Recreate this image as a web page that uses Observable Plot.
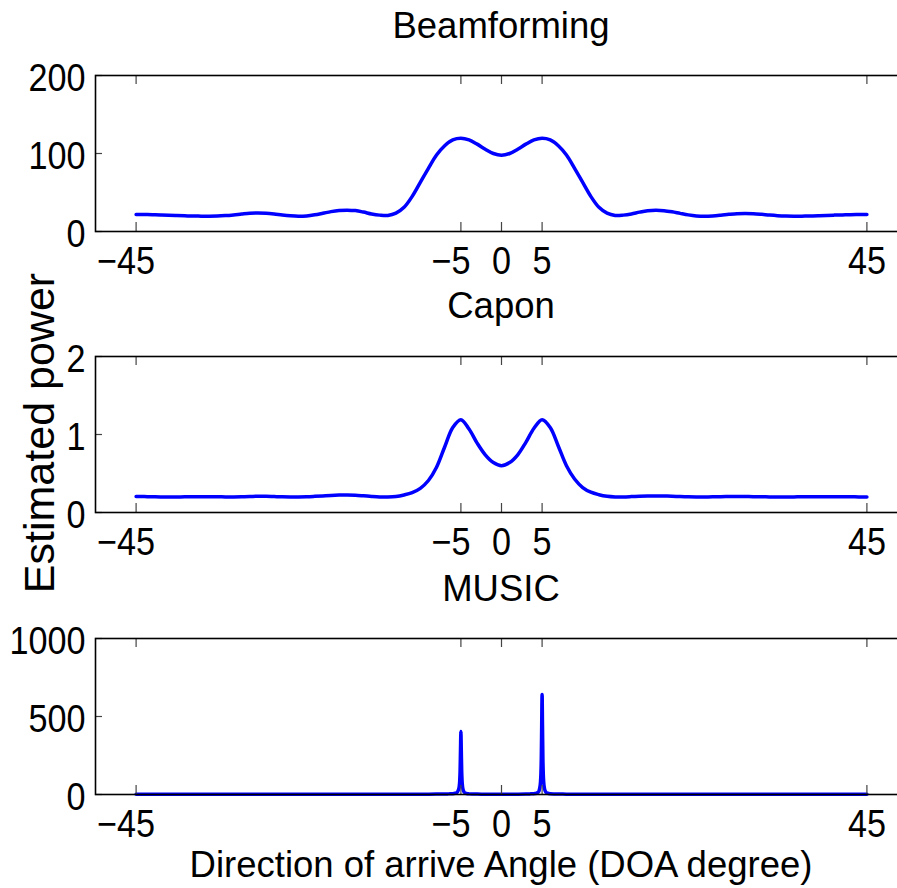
<!DOCTYPE html>
<html>
<head>
<meta charset="utf-8">
<script src="https://cdn.jsdelivr.net/npm/d3@7"></script>
<script src="https://cdn.jsdelivr.net/npm/@observablehq/plot@0.6"></script>
<style>
  html, body { margin: 0; padding: 0; background: #fff; width: 897px; height: 888px; overflow: hidden; }
  #root { position: relative; width: 897px; height: 888px; overflow: hidden;
          font-family: "Liberation Sans", Arial, Helvetica, sans-serif; color: #000; }
  .panel { position: absolute; left: 0; width: 907px; }
  .panel svg { max-width: none !important; }
  .ttl { position: absolute; left: 0; width: 1002px; text-align: center; font-size: 36.5px; line-height: 36px; white-space: nowrap; }
  .ylab { position: absolute; left: 39px; top: 433px; font-size: 43px; line-height: 42px; white-space: nowrap;
          transform: translate(-50%, -50%) rotate(-90deg); }
</style>
</head>
<body>
<div id="root"></div>
<script>
// ---- data ----
const angles = [-45,-44,-43,-42,-41,-40,-39,-38,-37,-36,-35,-34,-33,-32,-31,-30,-29,-28,-27,-26,-25,-24,-23,-22,-21,-20,-19,-18,-17,-16,-15,-14,-13,-12,-11,-10,-9,-8,-7,-6,-5,-4,-3,-2,-1,0,1,2,3,4,5,6,7,8,9,10,11,12,13,14,15,16,17,18,19,20,21,22,23,24,25,26,27,28,29,30,31,32,33,34,35,36,37,38,39,40,41,42,43,44,45];

const beamPower = [21.8,21.7,21.5,21.2,20.8,20.4,20.1,19.8,19.7,19.6,19.8,20.4,21.3,22.4,23.4,23.8,23.4,22.4,21.1,20.1,19.6,20.0,21.4,23.4,25.5,26.9,27.4,26.8,24.9,22.5,21.0,20.6,23.5,31,45,63,81,98,110,117.5,119.6,117.5,112,105.5,100,97.8,100,105.5,112,117.5,119.6,117.5,110,98,81,63,45,31,23.5,20.6,21.0,22.5,24.8,26.6,27.2,26.7,25.2,23.2,21.3,20.0,19.6,20.0,20.9,22.0,22.9,23.2,22.9,22.1,21.1,20.3,19.8,19.6,19.7,19.9,20.2,20.6,21.0,21.3,21.6,21.7,21.8];

const caponPower = [0.205,0.204,0.202,0.2,0.2,0.2,0.201,0.203,0.203,0.202,0.201,0.2,0.2,0.202,0.205,0.208,0.207,0.204,0.201,0.2,0.2,0.202,0.207,0.213,0.219,0.223,0.224,0.221,0.214,0.206,0.2,0.199,0.205,0.225,0.255,0.31,0.41,0.58,0.84,1.09,1.19,1.07,0.89,0.74,0.64,0.6,0.64,0.74,0.9,1.08,1.19,1.09,0.85,0.6,0.43,0.32,0.26,0.228,0.208,0.2,0.2,0.204,0.209,0.212,0.213,0.211,0.208,0.204,0.201,0.2,0.2,0.201,0.203,0.205,0.206,0.205,0.203,0.201,0.2,0.2,0.2,0.2,0.201,0.202,0.202,0.202,0.202,0.201,0.201,0.2,0.2];

const musicAngles = [-45,-35,-25,-15,-10,-8,-7,-6.5,-6,-5.7,-5.5,-5.4,-5.3,-5.2,-5.15,-5.1,-5.05,-5,-4.95,-4.9,-4.85,-4.8,-4.7,-4.6,-4.5,-4.3,-4,-3.5,-3,-2,-1,0,1,2,3,3.5,4,4.3,4.5,4.6,4.7,4.8,4.85,4.9,4.95,5,5.05,5.1,5.15,5.2,5.3,5.4,5.5,5.7,6,6.5,7,8,10,15,25,35,45];
const musicPower = [1,1,1.2,1.5,2,2.5,3,4,5,8,12,18,30,55,85,150,285,404,280,145,82,52,26,15,10,6,4,3,2.5,2,1.8,1.8,1.9,2.2,3,3.8,5.5,8,14,20,40,80,130,232,448,641,440,228,126,78,37,21,14,8,5,3.5,3,2.4,1.9,1.5,1.2,1,1];

const xTicks = [-45, -5, 0, 5, 45];
const xTickLabels = ["\u221245", "\u22125", "0", "5", "45"];
const xDomain = [-50, 50];

const panelTitles = ["Beamforming", "Capon", "MUSIC"];
const yDomains = [[0, 200], [0, 2], [0, 1000]];
const yTicksList = [[0, 100, 200], [0, 1, 2], [0, 500, 1000]];
const yTickLabelsList = [["0", "100", "200"], ["0", "1", "2"], ["0", "500", "1000"]];
const xAxisLabel = "Direction of arrive Angle (DOA degree)";
const yAxisLabel = "Estimated power";

// ---- layout ----
const root = document.getElementById("root");
const W = 907, MT = 10, MB = 60, ML = 95, MR = 0, H = 226;
const innerW = W - ML - MR, innerH = H - MT - MB;
const panelTops = [65, 346, 628];
const titleTops = [8, 288, 571];

const series = [
  angles.map((a, i) => ({a, p: beamPower[i]})),
  angles.map((a, i) => ({a, p: caponPower[i]})),
  musicAngles.map((a, i) => ({a, p: musicPower[i]}))
];
const curves = ["catmull-rom", "catmull-rom", "monotone-x"];
const labelOf = d => xTickLabels[xTicks.indexOf(d)];
const negTicks = xTicks.filter(d => d < 0);
const posTicks = xTicks.filter(d => d >= 0);

for (let k = 0; k < 3; k++) {
  const yT = yTicksList[k], yL = yTickLabelsList[k];
  const svg = Plot.plot({
    width: W, height: H,
    marginTop: MT, marginBottom: MB, marginLeft: ML, marginRight: MR,
    style: {fontFamily: '"Liberation Sans", Arial, Helvetica, sans-serif', fontSize: "38px", color: "#000", background: "transparent", overflow: "visible", maxWidth: "none"},
    x: {domain: xDomain},
    y: {domain: yDomains[k]},
    marks: [
      Plot.line(series[k], {x: "a", y: "p", stroke: "#0000ff", strokeWidth: 3.5, curve: curves[k]}),
      Plot.tickX(xTicks, {x: d => d, insetTop: innerH - 9, stroke: "#444", strokeWidth: 1.2}),
      Plot.tickX(xTicks, {x: d => d, insetBottom: innerH - 9, stroke: "#444", strokeWidth: 1.2}),
      Plot.tickY(yT, {y: d => d, insetRight: innerW - 7, stroke: "#444", strokeWidth: 1.2}),
      Plot.frame({stroke: "#000", strokeWidth: 1.6}),
      Plot.axisX(posTicks, {tickSize: 0, tickPadding: 16, tickFormat: labelOf, label: null, fill: "#000"}),
      Plot.axisX(negTicks, {tickSize: 0, tickPadding: 16, dx: -10, tickFormat: labelOf, label: null, fill: "#000"}),
      Plot.axisY(yT, {tickSize: 0, tickPadding: 10, dy: 3, tickFormat: (d, i) => yL[yT.indexOf(d)], label: null, fill: "#000"})
    ]
  });
  // slightly condensed tick-label glyphs, as in the reference
  svg.querySelectorAll("text").forEach(t => {
    const tr = t.getAttribute("transform");
    if (tr) t.setAttribute("transform", tr + " scale(0.9,1)");
    else {
      const x = +(t.getAttribute("x") || 0);
      t.setAttribute("transform", `translate(${x},0) scale(0.9,1) translate(${-x},0)`);
    }
  });
  const wrap = document.createElement("div");
  wrap.className = "panel";
  wrap.style.top = panelTops[k] + "px";
  wrap.appendChild(svg);
  root.appendChild(wrap);

  const t = document.createElement("div");
  t.className = "ttl";
  t.style.top = titleTops[k] + "px";
  t.textContent = panelTitles[k];
  root.appendChild(t);
}

const xl = document.createElement("div");
xl.className = "ttl";
xl.style.top = "847px";
xl.textContent = xAxisLabel;
root.appendChild(xl);

const yl = document.createElement("div");
yl.className = "ylab";
yl.textContent = yAxisLabel;
root.appendChild(yl);
</script>
</body>
</html>
